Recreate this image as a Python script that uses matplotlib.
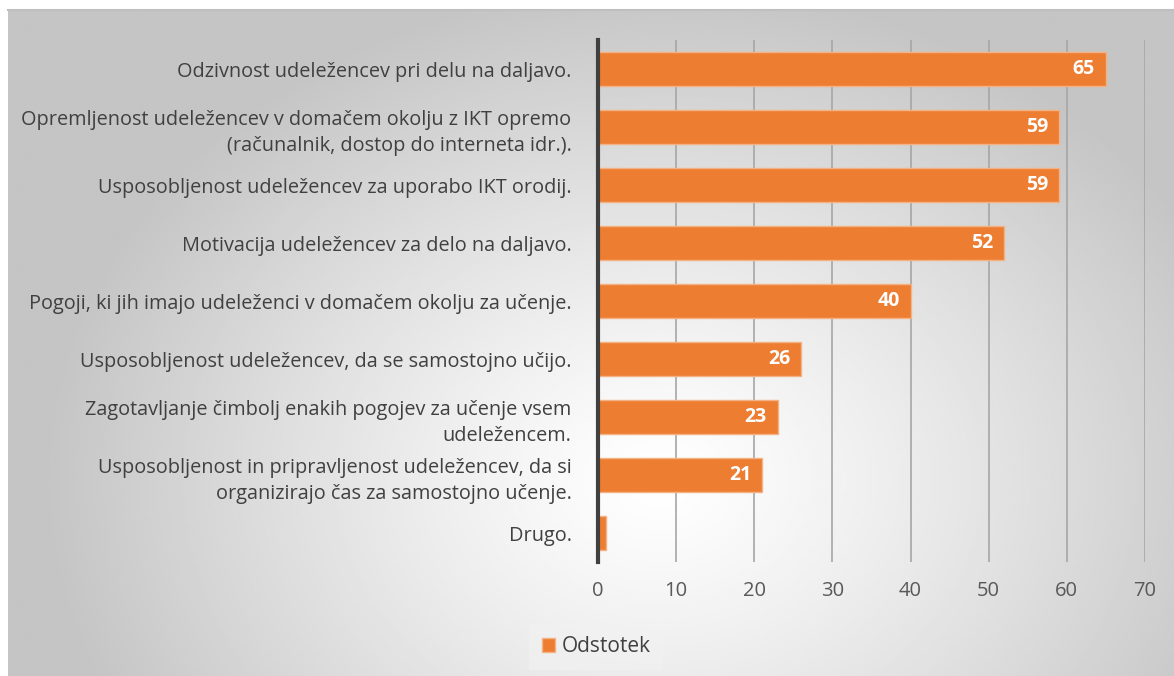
import numpy as np
import matplotlib
matplotlib.use('Agg')
import matplotlib.pyplot as plt
from matplotlib.patches import Patch

# Data
categories = [
    'Odzivnost udeležencev pri delu na daljavo.',
    'Opremljenost udeležencev v domačem okolju z IKT opremo\n(računalnik, dostop do interneta idr.).',
    'Usposobljenost udeležencev za uporabo IKT orodij.',
    'Motivacija udeležencev za delo na daljavo.',
    'Pogoji, ki jih imajo udeleženci v domačem okolju za učenje.',
    'Usposobljenost udeležencev, da se samostojno učijo.',
    'Zagotavljanje čimbolj enakih pogojev za učenje vsem\nudeležencem.',
    'Usposobljenost in pripravljenost udeležencev, da si\norganizirajo čas za samostojno učenje.',
    'Drugo.',
]
values = [65, 59, 59, 52, 40, 26, 23, 21, 1]
show_label = [True, True, True, True, True, True, True, True, False]
xticks = [0, 10, 20, 30, 40, 50, 60, 70]
series_name = 'Odstotek'

plt.rcParams['font.family'] = ['Open Sans', 'DejaVu Sans']
W, H = 1174, 676
fig = plt.figure(figsize=(W / 100, H / 100), dpi=100)
fig.patch.set_facecolor('white')

# Radial gradient background
bg = fig.add_axes([8 / W, 0, 1 - 8 / W, 1 - 10 / H])
bg.set_axis_off()
gx, gy = np.meshgrid(np.linspace(8, W, 400), np.linspace(10, H, 250))
d = np.sqrt(((gx - 660) / 620) ** 2 + ((gy - 480) / 500) ** 2)
shade = 1.0 - 0.23 * np.clip(d, 0, 1.0) ** 1.2
bg.imshow(shade, cmap='gray', vmin=0, vmax=1, aspect='auto',
          extent=[0, 1, 0, 1], interpolation='bilinear')
fig.add_artist(plt.Line2D([8 / W, 1], [1 - 10 / H, 1 - 10 / H],
                          color='#BFBFBF', lw=1.5, transform=fig.transFigure))

ax = fig.add_axes([598 / W, 1 - 562 / H, (1145 - 598) / W, (562 - 40) / H])
ax.patch.set_alpha(0)
y = np.arange(len(categories))
bars = ax.barh(y, values, height=0.59, color='#ED7D31', edgecolor='#F4B183',
               linewidth=1, zorder=3, label=series_name)
ax.set_ylim(len(categories) - 0.5, -0.5)
ax.set_xlim(0, 70)
ax.set_xticks(xticks)
ax.set_yticks(y)
ax.set_yticklabels(categories, fontsize=14.3, color='#404040', linespacing=1.45)
ax.tick_params(axis='y', length=0, pad=19)
ax.tick_params(axis='x', length=0, pad=14, labelsize=14.5, labelcolor='#595959')
ax.grid(axis='x', color='#A6A6A6', lw=1.2, zorder=0)
for s in ['top', 'right', 'bottom']:
    ax.spines[s].set_visible(False)
ax.spines['left'].set_color('#404040')
ax.spines['left'].set_linewidth(3)
ax.spines['left'].set_zorder(4)

for b, v, show in zip(bars, values, show_label):
    if show:
        ax.text(v - 1.4, b.get_y() + b.get_height() / 2, str(v), ha='right',
                va='center', color='white', fontweight='bold', fontsize=14,
                zorder=5)

leg = fig.legend(handles=[Patch(facecolor='#ED7D31', edgecolor='#F4B183')],
                 labels=[series_name], loc='center', bbox_to_anchor=(596 / W, 1 - 647 / H),
                 frameon=True, fontsize=15, handlelength=0.65, handleheight=0.65,
                 handletextpad=0.3, borderpad=0.6, fancybox=False)
leg.get_frame().set_facecolor('#F2F2F2')
leg.get_frame().set_edgecolor('none')
leg.get_frame().set_alpha(0.6)
for t in leg.get_texts():
    t.set_color('#404040')

fig.savefig('out.png', dpi=100)
